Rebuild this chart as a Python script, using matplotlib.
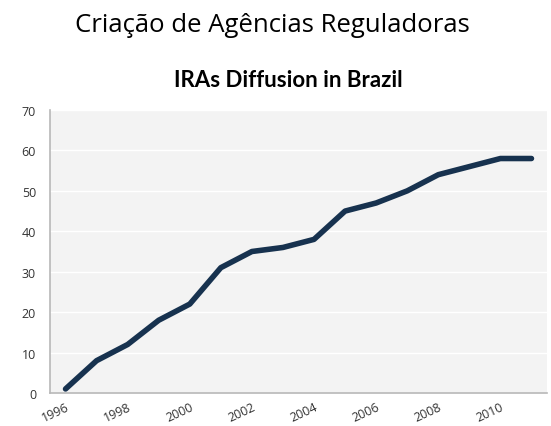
import matplotlib
matplotlib.use("Agg")
import matplotlib.pyplot as plt

# IRA counts per year
years = list(range(1996, 2012))
agencies = [1, 8, 12, 18, 22, 31, 35, 36, 38, 45, 47, 50, 54, 56, 58, 58]
tick_years = [1996, 1998, 2000, 2002, 2004, 2006, 2008, 2010]
y_ticks = [0, 10, 20, 30, 40, 50, 60, 70]

plt.rcParams["font.family"] = ["Open Sans", "DejaVu Sans"]

fig = plt.figure(figsize=(5.51, 4.27), dpi=100)
ax = fig.add_axes([50 / 551, (427 - 394) / 427, 497 / 551, 283 / 427])

ax.set_facecolor("#f3f3f3")
ax.plot(years, agencies, color="#17324f", linewidth=4, solid_capstyle="round",
        solid_joinstyle="round", zorder=3)

ax.set_xlim(1995.5, 2011.5)
ax.set_ylim(0, 70)
ax.set_yticks(y_ticks)
ax.set_xticks(tick_years)
ax.set_xticklabels([str(y) for y in tick_years], rotation=25, ha="right",
                   rotation_mode="anchor")
ax.tick_params(axis="both", length=0, labelsize=9, colors="#333333")
ax.tick_params(axis="x", pad=5)
ax.tick_params(axis="y", pad=10)
ax.grid(axis="y", color="white", linewidth=1)
ax.set_axisbelow(True)

for side in ["top", "right"]:
    ax.spines[side].set_visible(False)
for side in ["left", "bottom"]:
    ax.spines[side].set_color("#b8b8b8")
    ax.spines[side].set_linewidth(1.2)

fig.text(75 / 551, 1 - 32 / 427, "Criação de Agências Reguladoras",
         fontsize=18.5, va="baseline", ha="left", color="black")
fig.text(288 / 551, 1 - 87 / 427, "IRAs Diffusion in Brazil",
         fontsize=16, fontweight="bold", va="baseline", ha="center",
         family=["Lato", "DejaVu Sans"])

fig.savefig("out.png", dpi=100)
